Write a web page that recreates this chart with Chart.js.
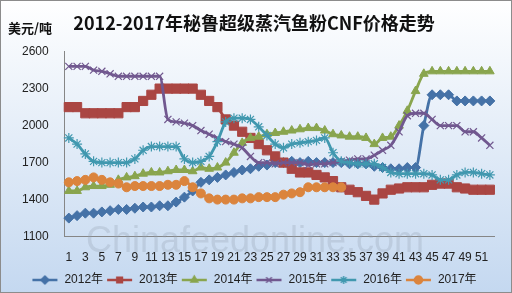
<!DOCTYPE html>
<html lang="zh">
<head>
<meta charset="UTF-8">
<title>2012-2017年秘鲁超级蒸汽鱼粉CNF价格走势</title>
<script src="https://cdn.jsdelivr.net/npm/chart.js"></script>
<style>
  html, body { margin: 0; padding: 0; background: #fff; }
  #wrap { width: 512px; height: 293px; }
</style>
</head>
<body>
<div id="wrap"><canvas id="c" width="512" height="293"></canvas></div>
<script>
// semaines
const weeks = [1, 2, 3, 4, 5, 6, 7, 8, 9, 10, 11, 12, 13, 14, 15, 16, 17, 18, 19, 20,
  21, 22, 23, 24, 25, 26, 27, 28, 29, 30, 31, 32, 33, 34, 35, 36, 37, 38, 39, 40,
  41, 42, 43, 44, 45, 46, 47, 48, 49, 50, 51, 52];

const y2012 = [1250, 1270, 1290, 1290, 1300, 1310, 1320, 1320, 1330, 1340, 1340, 1350, 1350, 1380, 1420, 1470, 1540, 1560, 1580, 1600,
  1620, 1640, 1650, 1670, 1680, 1700, 1700, 1710, 1700, 1710, 1700, 1700, 1700, 1700, 1690, 1690, 1690, 1670, 1660, 1650,
  1650, 1660, 1660, 2000, 2250, 2250, 2250, 2200, 2200, 2200, 2200, 2200];
const y2013 = [2150, 2150, 2100, 2100, 2100, 2100, 2100, 2150, 2150, 2200, 2250, 2300, 2300, 2300, 2300, 2300, 2250, 2200, 2150, 2050,
  2000, 1950, 1900, 1850, 1800, 1750, 1700, 1650, 1620, 1620, 1600, 1580, 1550, 1500, 1480, 1460, 1430, 1400, 1450, 1480,
  1490, 1500, 1500, 1500, 1520, 1530, 1530, 1500, 1490, 1480, 1480, 1480];
const y2014 = [1470, 1470, 1500, 1510, 1510, 1520, 1560, 1580, 1590, 1610, 1620, 1620, 1630, 1640, 1640, 1630, 1660, 1650, 1660, 1700,
  1780, 1860, 1900, 1910, 1930, 1940, 1950, 1960, 1970, 1980, 1980, 1960, 1930, 1920, 1910, 1910, 1900, 1850, 1900, 1910,
  2000, 2120, 2280, 2420, 2440, 2440, 2440, 2440, 2440, 2440, 2440, 2440];
const y2015 = [2480, 2480, 2480, 2450, 2440, 2420, 2400, 2400, 2400, 2400, 2400, 2400, 2050, 2030, 2020, 2000, 1960, 1930, 1900, 1870,
  1850, 1820, 1750, 1700, 1700, 1690, 1700, 1700, 1700, 1680, 1690, 1690, 1700, 1710, 1720, 1730, 1730, 1760, 1800, 1840,
  1950, 2080, 2100, 2100, 2050, 2000, 2000, 2000, 1950, 1950, 1900, 1840];
const y2016 = [1900, 1850, 1770, 1710, 1700, 1700, 1700, 1700, 1730, 1800, 1830, 1830, 1830, 1830, 1730, 1700, 1710, 1750, 1870, 2030,
  2060, 2060, 2050, 1990, 1920, 1850, 1820, 1850, 1860, 1870, 1880, 1900, 1780, 1710, 1700, 1690, 1690, 1690, 1660, 1620,
  1610, 1610, 1610, 1610, 1600, 1560, 1560, 1600, 1620, 1620, 1610, 1600];
const y2017 = [1540, 1550, 1560, 1580, 1560, 1540, 1530, 1500, 1510, 1510, 1510, 1510, 1520, 1520, 1550, 1500, 1450, 1410, 1400, 1400,
  1400, 1410, 1410, 1420, 1420, 1420, 1440, 1450, 1460, 1500, 1500, 1500, 1500, 1500];

const seriesNames = ['2012年', '2013年', '2014年', '2015年', '2016年', '2017年'];
const yTicks = [1100, 1400, 1700, 2000, 2300, 2600];

const couleurs = ['#4572A7', '#AA4643', '#89A54E', '#71588F', '#4198AF', '#DB843D'];
const formes = ['rectRot', 'rect', 'triangle', 'crossRot', 'star', 'circle'];
const rayons = [5, 6.5, 5, 5, 5, 4.5];
const valeurs = [y2012, y2013, y2014, y2015, y2016, y2017];

Chart.defaults.font.family = "'Liberation Sans', 'Noto Sans CJK SC', sans-serif";
Chart.defaults.color = '#222';

// petite icone ligne + marqueur pour la legende
function iconeLegende(i) {
  const cv = document.createElement('canvas');
  cv.width = 27; cv.height = 12;
  const g = cv.getContext('2d');
  g.strokeStyle = couleurs[i];
  g.fillStyle = couleurs[i];
  g.lineWidth = 2.5;
  g.beginPath(); g.moveTo(1, 6); g.lineTo(26, 6); g.stroke();
  g.lineWidth = 1.5;
  Chart.helpers.drawPoint(g, { pointStyle: formes[i], radius: 4, rotation: 0, borderWidth: 1.5 }, 13.5, 6);
  return cv;
}

const fond = {
  id: 'fond',
  beforeDraw(chart) {
    const ctx = chart.ctx, w = chart.width, h = chart.height;
    const grad = ctx.createLinearGradient(0, 0, 0, h);
    grad.addColorStop(0, '#FFFFFF');
    grad.addColorStop(1, '#C4D8F0');
    ctx.save();
    ctx.fillStyle = grad;
    ctx.fillRect(0, 0, w, h);
    ctx.strokeStyle = '#8C8C8C';
    ctx.lineWidth = 1;
    ctx.strokeRect(0.5, 0.5, w - 1, h - 1);
    ctx.restore();
  },
  beforeDatasetsDraw(chart) {
    const ctx = chart.ctx;
    ctx.save();
    ctx.font = "36px 'Liberation Sans'";
    ctx.fillStyle = 'rgba(150,162,180,0.30)';
    ctx.textAlign = 'center';
    ctx.textBaseline = 'middle';
    ctx.fillText('Chinafeedonline.com', 255, 242);
    ctx.restore();
  },
  afterDraw(chart) {
    const ctx = chart.ctx;
    ctx.save();
    ctx.font = "bold 13px 'Noto Sans CJK SC'";
    ctx.fillStyle = '#111';
    ctx.textBaseline = 'middle';
    ctx.fillText('美元/吨', 8, 28);
    ctx.restore();
  }
};

new Chart(document.getElementById('c'), {
  type: 'line',
  data: {
    labels: weeks,
    datasets: valeurs.map((v, i) => ({
      label: seriesNames[i],
      data: v,
      borderColor: couleurs[i],
      backgroundColor: couleurs[i],
      pointBackgroundColor: couleurs[i],
      pointBorderColor: couleurs[i],
      pointStyle: formes[i],
      pointRadius: rayons[i],
      pointBorderWidth: (formes[i] === 'crossRot' || formes[i] === 'star') ? 1.2 : 1,
      borderWidth: 2.8,
      cubicInterpolationMode: 'monotone',
      fill: false,
      order: 6 - i
    }))
  },
  options: {
    responsive: false,
    animation: false,
    devicePixelRatio: 1,
    layout: { padding: { left: 14, right: 18, top: 2, bottom: -3 } },
    plugins: {
      title: {
        display: true,
        text: '2012-2017年秘鲁超级蒸汽鱼粉CNF价格走势',
        font: { family: "'Noto Sans CJK SC'", size: 18, weight: 'bold' },
        color: '#111',
        padding: { top: 10, bottom: 18 }
      },
      legend: {
        position: 'bottom',
        labels: {
          usePointStyle: true,
          pointStyleWidth: 27,
          padding: 3,
          font: { size: 12 },
          generateLabels: (chart) => chart.data.datasets.map((ds, i) => ({
            text: ds.label,
            pointStyle: iconeLegende(i),
            fillStyle: couleurs[i],
            strokeStyle: couleurs[i],
            lineWidth: 0,
            fontColor: '#222',
            hidden: false,
            datasetIndex: i
          }))
        }
      },
      tooltip: { enabled: false }
    },
    scales: {
      x: {
        offset: true,
        grid: { display: false },
        border: { color: '#868686' },
        ticks: {
          autoSkip: false,
          maxRotation: 0,
          padding: 6,
          font: { family: "'Liberation Sans Narrow', 'Liberation Sans'", size: 12 },
          callback: function (val, idx) { return idx % 2 === 0 ? this.getLabelForValue(val) : ''; }
        }
      },
      y: {
        min: 1100,
        max: 2600,
        afterBuildTicks: (ax) => { ax.ticks = yTicks.map(v => ({ value: v })); },
        grid: { display: false },
        border: { color: '#868686' },
        ticks: { padding: 8, font: { size: 12 }, callback: (v) => String(v) }
      }
    }
  },
  plugins: [fond]
});
</script>
</body>
</html>
